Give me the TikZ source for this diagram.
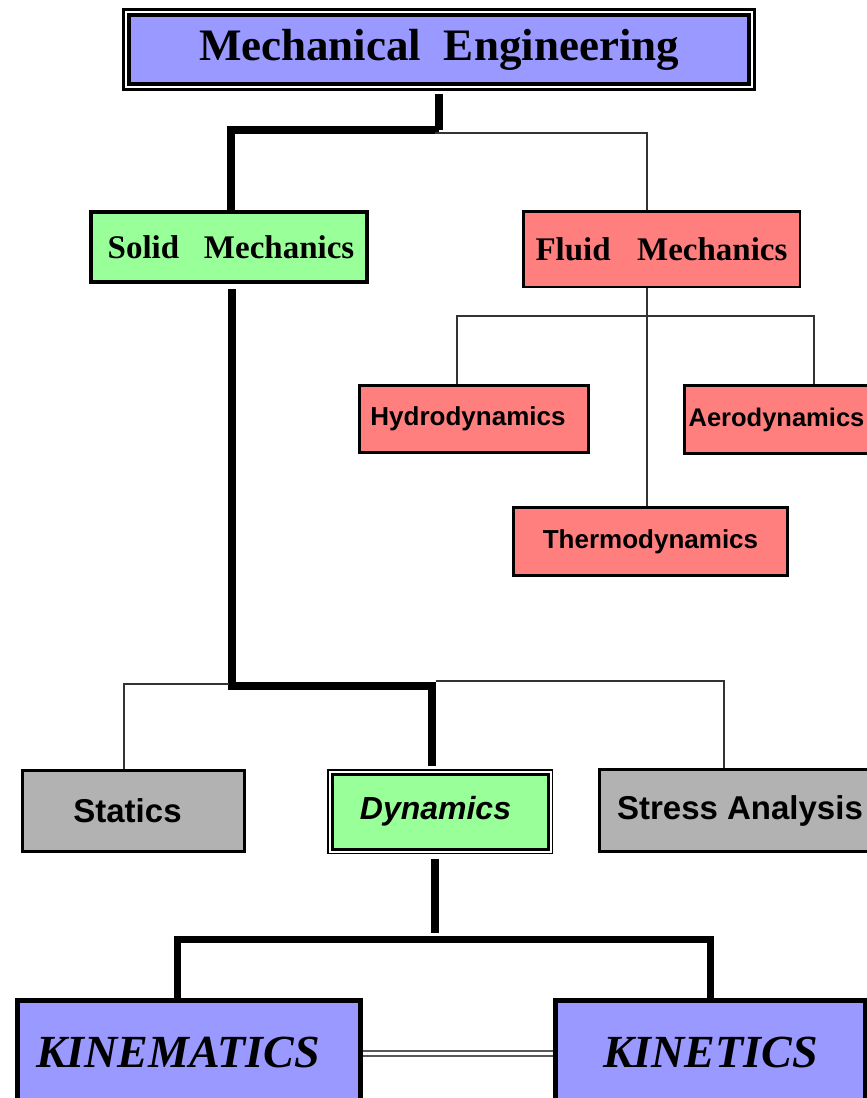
\documentclass[tikz,border=0pt]{standalone}
\usepackage{fontspec}
\setmainfont{Liberation Serif}
\setsansfont{Liberation Sans}
\usetikzlibrary{calc,backgrounds}
\definecolor{boxblue}{HTML}{9999FF}
\definecolor{boxgreen}{HTML}{99FF99}
\definecolor{boxred}{HTML}{FF7F7F}
\definecolor{boxgray}{HTML}{B2B2B2}
\definecolor{linkgray}{HTML}{333333}
\tikzset{
  box/.style={rectangle, draw=black, outer sep=0pt, inner sep=0pt, align=center},
  serifbig/.style={font=\fontsize{45}{54}\selectfont\bfseries},
  serifmid/.style={font=\fontsize{33}{40}\selectfont\bfseries},
  serifital/.style={font=\fontsize{46}{55}\selectfont\bfseries\itshape},
  sansmid/.style={font=\fontsize{33}{40}\selectfont\sffamily\bfseries},
  sanssmall/.style={font=\fontsize{26}{31}\selectfont\sffamily\bfseries},
  trunk/.style={draw=black, line width=8pt},
  twig/.style={draw=linkgray, line width=1.2pt},
  dbl/.style={draw=black!65, line width=2pt, double=white, double distance=3pt}
}
\begin{document}
\begin{tikzpicture}[x=1pt,y=-1pt]
\useasboundingbox (0,0) rectangle (867,1098);
\clip (0,0) rectangle (867,1098);

% --- boxes ---
\node[box, serifbig, double, line width=3.2pt, double distance=2.3pt, fill=boxblue,
      minimum width=625.5pt, minimum height=74.5pt] (me) at (439,49.5)
      {Mechanical\hspace{0.5em}Engineering};

\node[box, serifmid, line width=4pt, fill=boxgreen,
      minimum width=276pt, minimum height=70pt] (solid) at (229,247)
      {Solid\hspace{0.75em}Mechanics\hspace*{-4pt}};
\node[box, serifmid, line width=2.5pt, fill=boxred,
      minimum width=276.5pt, minimum height=75.5pt] (fluid) at (661.5,249)
      {Fluid\hspace{0.8em}Mechanics};

\node[box, sanssmall, line width=3pt, fill=boxred,
      minimum width=229pt, minimum height=67pt] (hydro) at (474,419)
      {Hydrodynamics\hspace*{12pt}};
\node[box, line width=3pt, fill=boxred, anchor=west,
      font=\fontsize{25.5}{31}\selectfont\sffamily\bfseries,
      minimum width=192pt, minimum height=68pt] (aero) at (684.5,419.5)
      {\hspace*{-4pt}Aerodynamics\hspace*{4pt}};
\node[box, sanssmall, line width=3pt, fill=boxred,
      minimum width=274pt, minimum height=68pt] (thermo) at (650.5,541.5)
      {Thermodynamics};

\node[box, sansmid, line width=3pt, fill=boxgray,
      minimum width=222pt, minimum height=81pt] (statics) at (133.5,811)
      {Statics\hspace*{12pt}};
\node[box, line width=3pt, fill=boxgreen,
      font=\fontsize{32}{38}\selectfont\sffamily\bfseries\itshape,
      minimum width=216pt, minimum height=75pt] (dyn) at (440,811.5)
      {Dynamics\hspace*{9pt}};
\draw[line width=1.5pt] ($(dyn.north west)+(-4.25,-4.25)$) rectangle ($(dyn.south east)+(4.25,4.25)$);
\node[box, sansmid, line width=3pt, fill=boxgray,
      minimum width=281pt, minimum height=82pt] (stress) at (740,810.5)
      {Stress Analysis};

\node[box, serifital, line width=5pt, fill=boxblue,
      minimum width=343pt, minimum height=103pt] (kinem) at (189,1052)
      {KINEMATICS\hspace*{22pt}};
\node[box, serifital, line width=5pt, fill=boxblue,
      minimum width=310pt, minimum height=103pt] (kinet) at (710.5,1052)
      {KINETICS};

% --- connectors (behind the boxes) ---
\coordinate (meTap) at (439,94);
\coordinate (meJ)   at (439,130);
\coordinate (smJ)   at (231,130);
\coordinate (a1) at (435,133);
\coordinate (a2) at (647,133);
\coordinate (h1) at (457,316);
\coordinate (h2) at (814,316);
\coordinate (s0) at (232,289);
\coordinate (s1) at (232,686);
\coordinate (s2) at (432,686);
\coordinate (s3) at (432,766);
\coordinate (t1) at (229,684);
\coordinate (t2) at (124,684);
\coordinate (u1) at (436,681);
\coordinate (u2) at (724,681);
\coordinate (d0) at (435,859);
\coordinate (d1) at (435,933);
\coordinate (k1) at (177,939);
\coordinate (k2) at (710,939);
\coordinate (m1) at (0,1053.5);

\begin{pgfonlayer}{background}
  \draw[trunk] (meTap) -- (meJ);
  \draw[trunk] (meJ) -- (smJ) -- (smJ |- solid.north);
  \draw[twig] (a1) -- (a2) -- (a2 |- fluid.north);

  \draw[twig] (a2 |- fluid.south) -- (a2 |- thermo.north);
  \draw[twig] (h1 |- hydro.north) -- (h1) -- (h2) -- (h2 |- aero.north);

  \draw[trunk] (s0) -- (s1) -- (s2) -- (s3);
  \draw[twig] (t1) -- (t2) -- (t2 |- statics.north);
  \draw[twig] (u1) -- (u2) -- (u2 |- stress.north);

  \draw[trunk] (d0) -- (d1);
  \draw[trunk, line width=7pt] (k1 |- kinem.north) -- (k1) -- (k2) -- (k2 |- kinet.north);
  \draw[dbl] (kinem.east |- m1) -- (kinet.west |- m1);
\end{pgfonlayer}
\end{tikzpicture}
\end{document}
